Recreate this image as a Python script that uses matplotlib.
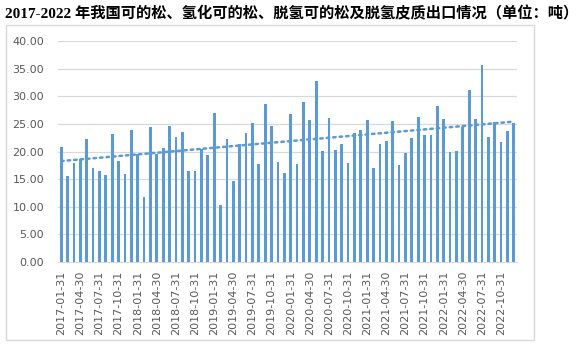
import numpy as np
import pandas as pd
import matplotlib
matplotlib.use("Agg")
import matplotlib.pyplot as plt

# monthly export volume, tonnes (2017-01 .. 2022-12)
export_2017 = [20.8, 15.5, 17.9, 18.7, 22.2, 17.1, 16.5, 15.7, 23.1, 18.2, 16.0, 23.9]
export_2018 = [19.5, 11.8, 24.5, 19.6, 20.7, 24.6, 22.6, 23.6, 16.4, 16.4, 20.5, 19.3]
export_2019 = [26.9, 10.3, 22.2, 14.6, 21.3, 23.3, 25.2, 17.8, 28.6, 24.6, 18.1, 16.1]
export_2020 = [26.8, 17.8, 28.9, 25.7, 32.8, 20.1, 26.1, 20.2, 21.4, 18.0, 23.3, 23.9]
export_2021 = [25.7, 17.0, 21.3, 21.9, 25.6, 17.5, 19.8, 22.4, 26.2, 23.0, 23.0, 28.3]
export_2022 = [25.9, 20.0, 20.1, 24.4, 31.2, 25.8, 35.6, 22.7, 25.3, 21.8, 23.7, 25.1]

values = np.array(export_2017 + export_2018 + export_2019 + export_2020 + export_2021 + export_2022)
months = pd.date_range("2017-01-31", periods=len(values), freq="ME")
labels = [d.strftime("%Y-%m-%d") for d in months]

title = "2017-2022 年我国可的松、氢化可的松、脱氢可的松及脱氢皮质出口情况（单位：吨）"

blue = "#5B9BD5"
grey_text = "#595959"

fig = plt.figure(figsize=(5.78, 3.45), dpi=100)

# light frame around the chart body
frame = plt.Rectangle((6 / 578, 1 - 340 / 345), 528 / 578, 315 / 345,
                      transform=fig.transFigure, fill=False,
                      edgecolor="#d9d9d9", linewidth=1.0)
fig.patches.append(frame)

fig.text(5 / 578, 1 - 14 / 345, title, fontsize=11, fontweight="bold",
         family=["Liberation Serif", "Noto Sans CJK SC"], va="center", ha="left")

ax = fig.add_axes([58 / 578, 1 - 262 / 345, 459 / 578, 221 / 345])

x = np.arange(len(values))
ax.bar(x, values, width=0.42, color=blue, zorder=3)

# linear trend line
k, b = np.polyfit(x, values, 1)
ax.plot(x, k * x + b, linestyle=(0, (1, 1.6)), color=blue, linewidth=1.8,
        dash_capstyle="round", zorder=4)

ax.set_xlim(-0.5, len(values) - 0.5)
ax.set_ylim(0, 40)
ax.set_yticks(np.arange(0, 41, 5))
ax.set_yticklabels(["%.2f" % v for v in np.arange(0, 41, 5)])
ax.set_xticks(x[::3])
ax.set_xticklabels(labels[::3], rotation=90)

ax.tick_params(axis="both", length=0, labelsize=8, colors=grey_text)
ax.tick_params(axis="y", pad=10)
ax.tick_params(axis="x", pad=6)
ax.grid(axis="y", color="#d9d9d9", linewidth=0.9, zorder=0)
for side in ["left", "right", "top"]:
    ax.spines[side].set_visible(False)
ax.spines["bottom"].set_color("#d9d9d9")

fig.savefig("out.png", dpi=100)
